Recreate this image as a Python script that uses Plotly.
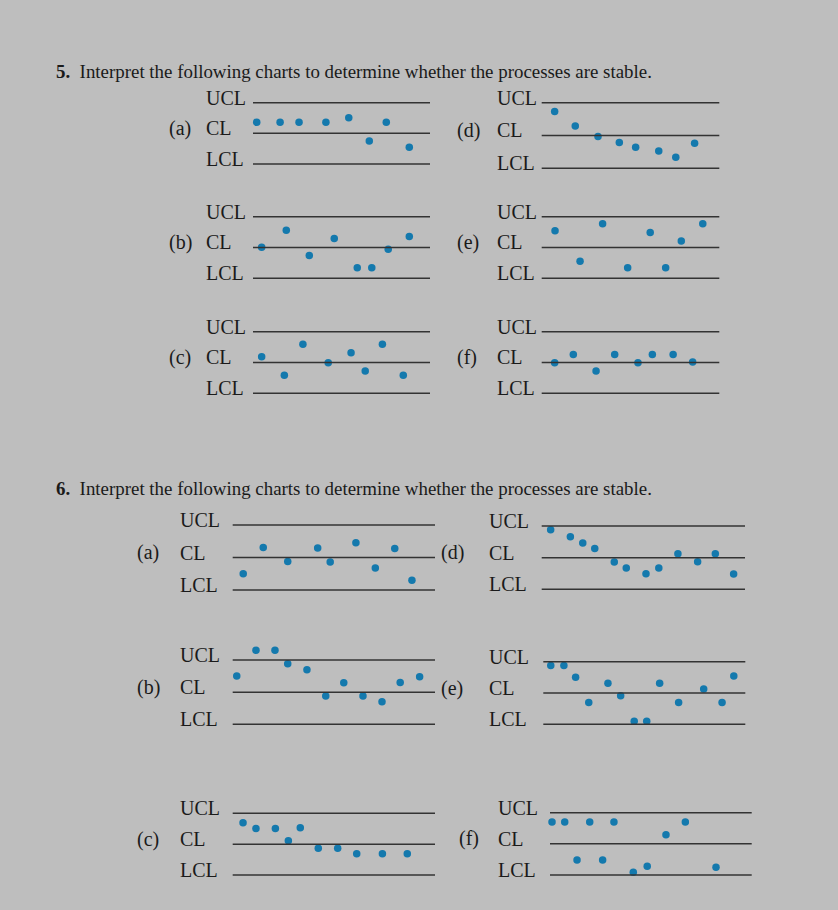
import plotly.graph_objects as go

# ---------------- data (x: position along the chart, 0-100; y: in control-limit units, CL=0, UCL=1, LCL=-1)
limit_labels = ["UCL", "CL", "LCL"]
limit_values = [1, 0, -1]

p5_parts = ["(a)", "(b)", "(c)", "(d)", "(e)", "(f)"]
p6_parts = ["(a)", "(b)", "(c)", "(d)", "(e)", "(f)"]

p5a_x = [2.1, 15.3, 26.0, 41.2, 54.1, 65.7, 75.3, 88.3]
p5a_y = [0.36, 0.36, 0.36, 0.36, 0.51, -0.25, 0.36, -0.45]
p5b_x = [4.9, 18.8, 31.8, 45.9, 58.9, 67.1, 76.4, 88.3]
p5b_y = [0.01, 0.56, -0.26, 0.29, -0.66, -0.66, -0.06, 0.36]
p5c_x = [4.9, 17.7, 28.2, 42.5, 55.4, 63.4, 73.1, 84.9]
p5c_y = [0.19, -0.41, 0.59, -0.01, 0.32, -0.28, 0.59, -0.41]
p5d_x = [7.3, 18.9, 31.7, 43.7, 52.9, 65.9, 75.5, 86.1]
p5d_y = [0.73, 0.29, -0.03, -0.21, -0.36, -0.47, -0.66, -0.24]
p5e_x = [7.5, 21.6, 34.3, 48.4, 61.1, 69.8, 78.6, 90.7]
p5e_y = [0.54, -0.45, 0.77, -0.66, 0.49, -0.66, 0.21, 0.77]
p5f_x = [7.3, 17.8, 30.6, 41.1, 54.2, 62.3, 74.0, 85.0]
p5f_y = [-0.01, 0.26, -0.28, 0.26, -0.01, 0.26, 0.26, 0.02]

p6a_x = [5.2, 15.1, 27.2, 42.0, 48.2, 60.9, 70.5, 80.1, 88.6]
p6a_y = [-0.50, 0.31, -0.12, 0.29, -0.14, 0.45, -0.32, 0.28, -0.70]
p6b_x = [2.0, 11.5, 20.9, 27.2, 36.7, 46.0, 54.9, 64.4, 73.8, 82.8, 92.4]
p6b_y = [0.50, 1.30, 1.30, 0.88, 0.70, -0.12, 0.29, -0.12, -0.30, 0.30, 0.48]
p6c_x = [5.1, 11.5, 21.1, 27.5, 33.4, 42.3, 51.9, 61.3, 74.0, 86.3]
p6c_y = [0.69, 0.51, 0.51, 0.11, 0.53, -0.13, -0.13, -0.31, -0.31, -0.31]
p6d_x = [4.4, 14.1, 20.2, 26.1, 35.7, 41.6, 51.3, 57.6, 67.0, 76.7, 85.4, 94.4]
p6d_y = [0.88, 0.66, 0.46, 0.29, -0.14, -0.33, -0.51, -0.33, 0.12, -0.13, 0.12, -0.52]
p6e_x = [3.7, 10.2, 16.0, 22.5, 32.0, 38.3, 45.0, 51.2, 57.6, 67.0, 79.4, 88.5, 94.3]
p6e_y = [0.88, 0.88, 0.50, -0.30, 0.31, -0.09, -0.90, -0.90, 0.31, -0.30, 0.13, -0.30, 0.54]
p6f_x = [1.0, 7.3, 13.4, 19.7, 26.1, 31.7, 41.3, 48.2, 57.5, 67.1, 82.3]
p6f_y = [0.70, 0.70, -0.52, 0.70, -0.52, 0.70, -0.91, -0.72, 0.29, 0.70, -0.75]

header5 = "<b>5.</b>  Interpret the following charts to determine whether the processes are stable."
header6 = "<b>6.</b>  Interpret the following charts to determine whether the processes are stable."

# ---------------- layout geometry (pixels on the 838x910 page)
W, H = 838, 910
BG = "#bebebe"
DOT = "#1479ad"
LINE = "#333333"
TXT = "#1a1a1a"
FONT = "Liberation Serif"
XPAD = 10      # axis range padding (in x units) so points near the ends are kept
YLIM = 1.6     # y axis half-range (limit units) so points beyond the limits are kept

# (x, y, part label, x0, x1, yUCL, yLCL, label_x, part_x)
charts = [
    (p5a_x, p5a_y, p5_parts[0], 253, 430, 102.7, 164.0, 204, 167),
    (p5b_x, p5b_y, p5_parts[1], 253, 430, 216.7, 278.3, 204, 167),
    (p5c_x, p5c_y, p5_parts[2], 253, 430, 331.7, 393.3, 204, 167),
    (p5d_x, p5d_y, p5_parts[3], 541.7, 719.3, 102.7, 168.3, 495, 455),
    (p5e_x, p5e_y, p5_parts[4], 541.7, 719.3, 216.7, 278.3, 495, 455),
    (p5f_x, p5f_y, p5_parts[5], 541.7, 719.3, 331.7, 393.3, 495, 455),
    (p6a_x, p6a_y, p6_parts[0], 232.7, 435, 525.0, 590.0, 178, 135),
    (p6b_x, p6b_y, p6_parts[1], 232.7, 435, 660.0, 724.3, 178, 135),
    (p6c_x, p6c_y, p6_parts[2], 232.7, 435, 813.3, 875.0, 178, 135),
    (p6d_x, p6d_y, p6_parts[3], 541.7, 745, 526.0, 589.3, 487, 439),
    (p6e_x, p6e_y, p6_parts[4], 543.3, 745.3, 661.7, 724.3, 487, 439),
    (p6f_x, p6f_y, p6_parts[5], 550, 751.7, 812.7, 875.0, 496, 457),
]


def px(xp, yp):
    return xp / W, 1 - yp / H


fig = go.Figure()
layout_axes = {}
shapes = []
annotations = []

for i, (xs, ys, part, x0, x1, yU, yL, lab_x, part_x) in enumerate(charts, start=1):
    sfx = "" if i == 1 else str(i)
    L = x1 - x0
    dx0 = x0 - L * XPAD / 100
    dx1 = x1 + L * XPAD / 100
    yc = (yU + yL) / 2
    s = (yL - yU) / 2
    dyt = yc - YLIM * s
    dyb = yc + YLIM * s
    layout_axes["xaxis" + sfx] = dict(domain=[dx0 / W, dx1 / W], range=[-XPAD, 100 + XPAD], visible=False,
                                      fixedrange=True, anchor="y" + sfx)
    layout_axes["yaxis" + sfx] = dict(domain=[1 - dyb / H, 1 - dyt / H], range=[-YLIM, YLIM], visible=False,
                                      fixedrange=True, anchor="x" + sfx)
    fig.add_trace(go.Scatter(x=xs, y=ys, mode="markers", xaxis="x" + sfx, yaxis="y" + sfx,
                             marker=dict(size=7.5, color=DOT), cliponaxis=False,
                             showlegend=False, hoverinfo="skip"))
    for lab, v in zip(limit_labels, limit_values):
        shapes.append(dict(type="line", xref="x" + sfx, yref="y" + sfx, x0=0, x1=100, y0=v, y1=v,
                           line=dict(color=LINE, width=1.5)))
        yline = yc - v * s
        ax, ay = px(lab_x, yline - 5)
        annotations.append(dict(text=lab, x=ax, y=ay, xref="paper", yref="paper", xanchor="left",
                                yanchor="middle", showarrow=False,
                                font=dict(family=FONT, size=20, color=TXT)))
        if v == 0:
            bx, by = px(part_x, yline - 5)
            annotations.append(dict(text=part, x=bx, y=by, xref="paper", yref="paper",
                                    xanchor="left", yanchor="middle", showarrow=False,
                                    font=dict(family=FONT, size=20, color=TXT)))

for htxt, hy in [(header5, 72), (header6, 488)]:
    hx, hyp = px(54, hy)
    annotations.append(dict(text=htxt, x=hx, y=hyp, xref="paper", yref="paper", xanchor="left",
                            yanchor="middle", showarrow=False,
                            font=dict(family=FONT, size=18.9, color=TXT)))

fig.update_layout(width=W, height=H, margin=dict(l=0, r=0, t=0, b=0),
                  paper_bgcolor=BG, plot_bgcolor="rgba(0,0,0,0)",
                  shapes=shapes, annotations=annotations, **layout_axes)

fig.write_html("out.html", config={"displayModeBar": False},
               post_script="document.body.style.margin='0';document.body.style.background='%s';" % BG)
